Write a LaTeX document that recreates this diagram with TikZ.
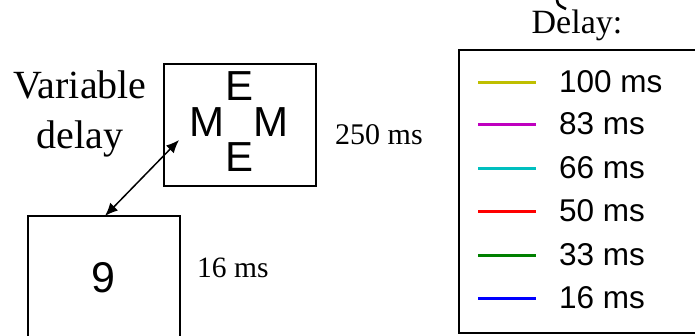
\documentclass[tikz,border=0pt]{standalone}
\usepackage{fontspec}
\setmainfont{Liberation Serif}
\newfontfamily\arialf{Liberation Sans}
\usetikzlibrary{arrows.meta}
\definecolor{myyel}{RGB}{191,191,0}
\definecolor{mymag}{RGB}{191,0,191}
\definecolor{mycya}{RGB}{0,191,191}
\definecolor{myred}{RGB}{255,0,0}
\definecolor{mygrn}{RGB}{0,128,0}
\definecolor{myblu}{RGB}{0,0,255}
\tikzset{
  frame/.style={draw=black, line width=1.6pt, inner sep=0pt},
  letter/.style={font=\arialf\fontsize{42}{44}\selectfont, anchor=base, inner sep=0pt},
  serif/.style={font=\fontsize{#1}{#1}\selectfont, inner sep=0pt},
  legtext/.style={font=\arialf\fontsize{31.5}{34}\selectfont, anchor=base west, inner sep=0pt},
  legline/.style={line width=3pt},
}
\begin{document}
\begin{tikzpicture}[x=1pt,y=-1pt]
\useasboundingbox (0,0) rectangle (695,335);
% stimulus boxes
\node[frame, minimum width=152pt, minimum height=122pt] (mask) at (240,125) {};
\node[frame, minimum width=152pt, minimum height=140pt] (digit) at (104,286) {};
\node[letter] (e1) at (240,100) {E};
\node[letter] (m1) at (207,136.7) {M};
\node[letter] (m2) at (271,136.7) {M};
\node[letter] (e2) at (240,171.7) {E};
\node[font=\arialf\fontsize{43}{44}\selectfont, anchor=base, inner sep=0pt] (nine) at (103,292) {9};
% labels
\node[serif=40, anchor=base] (var) at (80,98) {Variable};
\node[serif=40, anchor=base] (del) at (80,148) {delay};
\node[serif=30, anchor=base west] (t250) at (335,144) {250 ms};
\node[serif=29.5, anchor=base west] (t16) at (197,277) {16 ms};
% arrow
\coordinate (a1) at (105,216);
\coordinate (a2) at (179,140);
\draw[line width=1.5pt, {Latex[length=13pt,width=11pt]}-{Latex[length=13pt,width=11pt]}] (a1) -- (a2);
% legend
\node[serif=34, anchor=base] (dtitle) at (577,33) {Delay:};
\coordinate (lg1) at (459,50);
\coordinate (lg2) at (710,333);
\draw[line width=2pt] (lg1) rectangle (lg2);
\foreach \y/\c/\t [count=\i] in {82/myyel/100 ms, 124/mymag/83 ms, 168/mycya/66 ms, 211/myred/50 ms, 255/mygrn/33 ms, 298/myblu/16 ms}{
  \coordinate (ls\i) at (478,\y);
  \coordinate (le\i) at (536,\y);
  \draw[legline, draw=\c] (ls\i) -- (le\i);
  \node[legtext] (lt\i) at (559,\y+10.5) {\t};
}
% fragment of a glyph at the top
\coordinate (f1) at (557,0);
\coordinate (f2) at (566,9);
\draw[line width=2.6pt] (f1) .. controls (558,5) .. (f2);
\end{tikzpicture}
\end{document}
